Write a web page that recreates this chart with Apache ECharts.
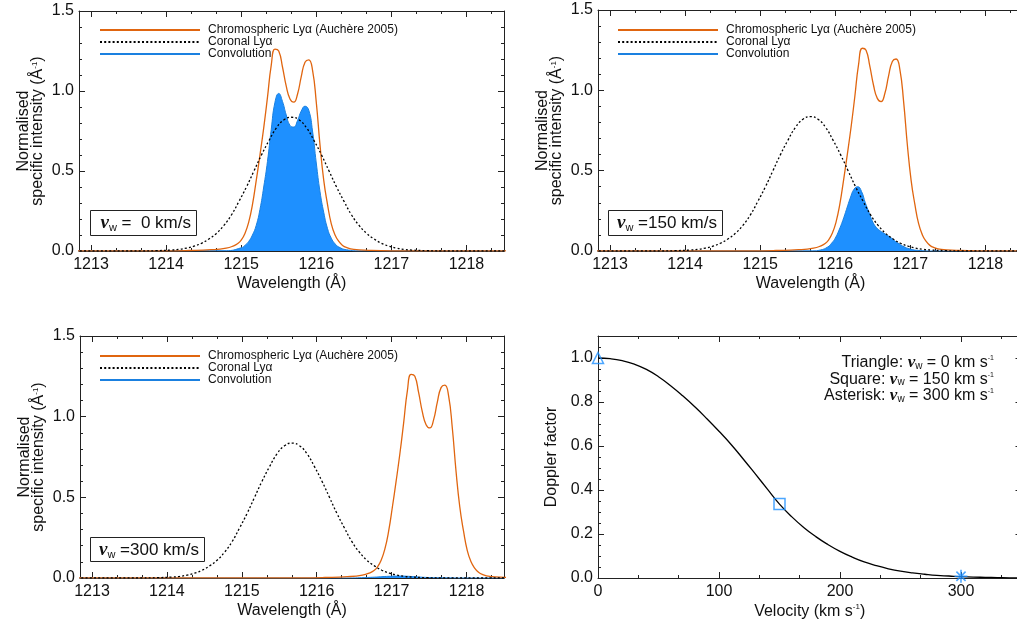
<!DOCTYPE html>
<html><head><meta charset="utf-8">
<script src="https://cdn.jsdelivr.net/npm/echarts@6/dist/echarts.min.js"></script>
<style>html,body{margin:0;padding:0;background:#fff}#c{width:1017px;height:623px}</style>
</head><body><div id="c"></div>
<script>
// ---------------- data ----------------
const wavelengthTicks = [1213, 1214, 1215, 1216, 1217, 1218];
const intensityTicks = [0, 0.5, 1.0, 1.5];
const velocityTicks = [0, 100, 200, 300];
const dopplerTicks = [0, 0.2, 0.4, 0.6, 0.8, 1.0];

const seriesNames = ['Chromospheric Lyα (Auchère 2005)', 'Coronal Lyα', 'Convolution'];

// chromospheric profile at rest (panel with v_w = 0)
const chromoWl = [1210, 1214.0, 1214.3, 1214.6, 1214.8, 1214.9, 1214.95, 1215.0, 1215.05, 1215.1, 1215.15, 1215.2, 1215.25, 1215.3, 1215.35, 1215.4, 1215.45, 1215.5, 1215.55, 1215.6, 1215.65, 1215.7, 1215.75, 1215.8, 1215.85, 1215.9, 1215.95, 1216.0, 1216.05, 1216.1, 1216.15, 1216.2, 1216.25, 1216.3, 1216.35, 1216.4, 1216.5, 1216.7, 1217.0, 1222];
const chromoI = [0, 0.001, 0.003, 0.008, 0.018, 0.032, 0.045, 0.068, 0.11, 0.18, 0.29, 0.44, 0.60, 0.77, 0.96, 1.16, 1.262, 1.25, 1.15, 1.03, 0.95, 0.93, 0.98, 1.09, 1.18, 1.195, 1.13, 0.93, 0.66, 0.44, 0.29, 0.17, 0.10, 0.06, 0.035, 0.022, 0.01, 0.004, 0.001, 0];
// apparent shift of the chromospheric profile in each panel (Å)
const panelShift = [0, 0.91, 1.81];
const windLabels = ['  0', '150', '300'];

// coronal profile (same in every panel)
const coronalWl = [1210, 1213.67, 1213.87, 1214.07, 1214.17, 1214.27, 1214.37, 1214.47, 1214.57, 1214.67, 1214.77, 1214.87, 1214.97, 1215.07, 1215.17, 1215.27, 1215.37, 1215.47, 1215.57, 1215.67, 1215.77, 1215.87, 1215.97, 1216.07, 1216.17, 1216.27, 1216.37, 1216.47, 1216.57, 1216.67, 1216.77, 1216.87, 1216.97, 1217.07, 1217.17, 1217.27, 1217.47, 1217.67, 1222];
const coronalI = [0, 0, 0.002, 0.006, 0.010, 0.018, 0.030, 0.048, 0.075, 0.11, 0.16, 0.225, 0.31, 0.40, 0.50, 0.60, 0.69, 0.77, 0.82, 0.836, 0.82, 0.77, 0.69, 0.60, 0.50, 0.40, 0.31, 0.225, 0.16, 0.11, 0.075, 0.048, 0.030, 0.018, 0.010, 0.006, 0.002, 0, 0];

// convolutions
const conv0Wl = [1210, 1214.8, 1215.0, 1215.05, 1215.1, 1215.15, 1215.2, 1215.25, 1215.3, 1215.35, 1215.4, 1215.45, 1215.5, 1215.55, 1215.6, 1215.65, 1215.7, 1215.75, 1215.8, 1215.85, 1215.9, 1215.95, 1216.0, 1216.05, 1216.1, 1216.15, 1216.2, 1216.25, 1216.3, 1216.4, 1216.6, 1222];
const conv0I = [0, 0.002, 0.02, 0.035, 0.06, 0.10, 0.16, 0.26, 0.40, 0.56, 0.76, 0.93, 0.985, 0.935, 0.85, 0.785, 0.775, 0.815, 0.875, 0.905, 0.88, 0.75, 0.55, 0.37, 0.24, 0.14, 0.08, 0.045, 0.025, 0.008, 0.001, 0];
const conv150Wl = [1210, 1215.7, 1215.8, 1215.9, 1215.95, 1216.0, 1216.05, 1216.1, 1216.15, 1216.2, 1216.25, 1216.3, 1216.35, 1216.4, 1216.45, 1216.5, 1216.55, 1216.6, 1216.65, 1216.7, 1216.75, 1216.8, 1216.85, 1216.9, 1217.0, 1217.1, 1217.3, 1222];
const conv150I = [0, 0.001, 0.006, 0.025, 0.048, 0.08, 0.13, 0.19, 0.26, 0.33, 0.385, 0.40, 0.37, 0.30, 0.24, 0.18, 0.145, 0.125, 0.11, 0.095, 0.08, 0.06, 0.045, 0.03, 0.012, 0.004, 0, 0];
const conv300Wl = [1210, 1216.4, 1216.6, 1216.8, 1216.9, 1217.0, 1217.1, 1217.2, 1217.3, 1217.4, 1217.5, 1217.7, 1218.0, 1222];
const conv300I = [0, 0, 0.002, 0.006, 0.009, 0.011, 0.012, 0.011, 0.008, 0.005, 0.003, 0.001, 0, 0];

// Doppler factor vs velocity
const velocity = [0, 10, 20, 30, 40, 50, 60, 70, 80, 90, 100, 110, 120, 130, 140, 150, 160, 170, 180, 190, 200, 210, 220, 230, 240, 250, 260, 270, 280, 290, 300, 310, 320, 330, 340, 350];
const doppler = [1.000, 0.997, 0.988, 0.972, 0.948, 0.915, 0.874, 0.828, 0.778, 0.724, 0.667, 0.607, 0.541, 0.473, 0.404, 0.336, 0.279, 0.230, 0.188, 0.152, 0.121, 0.095, 0.073, 0.056, 0.042, 0.031, 0.023, 0.017, 0.012, 0.009, 0.006, 0.004, 0.003, 0.002, 0.001, 0.001];
const markerVel = [0, 150, 300];
const markerDop = [1.0, 0.336, 0.008];

// ---------------- styling / layout ----------------
const SANS = 'Liberation Sans';
const SERIF = 'Liberation Serif';
const AX = '#222';
const TXT = '#111';
const ORANGE = '#E0650F';
const BLUE = '#1E90FF';
const BLUE_LINE = '#1A80E0';
const WL_MIN = 1212.84, WL_MAX = 1218.5;

const grids = [
  {left: 79, top: 11, width: 425, height: 240},
  {left: 598, top: 10, width: 425, height: 241},
  {left: 80, top: 336, width: 424, height: 242},
  {left: 598, top: 336, width: 423.5, height: 242}
];

function minorList(min, max, step, div) {
  const out = [];
  const k0 = Math.ceil(min / step - 1e-9), k1 = Math.floor(max / step + 1e-9);
  for (let k = k0; k <= k1; k++) if (k % div !== 0) out.push(+(k * step).toFixed(6));
  return out;
}

function makeAxes(dim, gi, min, max, ticks, minors, labelFmt, nameOpt) {
  const posA = dim === 'x' ? 'bottom' : 'left';
  const posB = dim === 'x' ? 'top' : 'right';
  const ax = (pos, vals, len, showLine, withLabel) => {
    const a = {
      type: 'value', gridIndex: gi, min: min, max: max, position: pos,
      axisLine: {show: showLine, onZero: false, lineStyle: {color: AX, width: 1}},
      axisTick: {show: true, inside: true, length: len, customValues: vals, lineStyle: {color: AX, width: 1}},
      minorTick: {show: false}, splitLine: {show: false}, axisPointer: {show: false},
      axisLabel: withLabel ? {show: true, customValues: vals, formatter: labelFmt, color: TXT,
        fontSize: 16, fontFamily: SANS, margin: dim === 'x' ? 6 : 5} : {show: false}
    };
    if (withLabel && nameOpt) Object.assign(a, nameOpt);
    return a;
  };
  return [ax(posA, ticks, 6, true, true), ax(posA, minors, 3, false, false),
          ax(posB, ticks, 6, true, false), ax(posB, minors, 3, false, false)];
}

const xAxes = [], yAxes = [];
const intensityName = {
  name: 'Normalised\nspecific intensity (Å{sup|-1})', nameLocation: 'middle', nameGap: 34,
  nameTextStyle: {fontSize: 16, lineHeight: 14, color: TXT, fontFamily: SANS,
    rich: {sup: {fontSize: 8, lineHeight: 5, verticalAlign: 'top', fontFamily: SANS, color: TXT}}}
};
const wlName = {
  name: 'Wavelength (Å)', nameLocation: 'middle', nameGap: 25,
  nameTextStyle: {fontSize: 16, color: TXT, fontFamily: SANS}
};
const wlMinor = minorList(WL_MIN, WL_MAX, 1 / 3, 3);
for (let p = 0; p < 3; p++) {
  xAxes.push(...makeAxes('x', p, WL_MIN, WL_MAX, wavelengthTicks, wlMinor, v => String(v), wlName));
  yAxes.push(...makeAxes('y', p, 0, 1.5, intensityTicks, minorList(0, 1.5, 0.1, 5), v => v.toFixed(1), intensityName));
}
// panel 4
xAxes.push(...makeAxes('x', 3, 0, 350, velocityTicks, minorList(0, 350, 100 / 3, 3), v => String(v), {
  name: 'Velocity (km s{sup|-1})', nameLocation: 'middle', nameGap: 25,
  nameTextStyle: {fontSize: 16, lineHeight: 18, color: TXT, fontFamily: SANS,
    rich: {sup: {fontSize: 8, lineHeight: 6, verticalAlign: 'top', fontFamily: SANS, color: TXT}}}
}));
yAxes.push(...makeAxes('y', 3, 0, 1.1, dopplerTicks, minorList(0, 1.1, 0.05, 4), v => v.toFixed(1), {
  name: 'Doppler factor', nameLocation: 'middle', nameGap: 38,
  nameTextStyle: {fontSize: 16, color: TXT, fontFamily: SANS}
}));

const convWl = [conv0Wl, conv150Wl, conv300Wl];
const convI = [conv0I, conv150I, conv300I];
const SMOOTH = 0.5;
const series = [];
for (let p = 0; p < 3; p++) {
  const ai = 4 * p;
  series.push({
    type: 'line', name: seriesNames[2], xAxisIndex: ai, yAxisIndex: ai, symbol: 'none',
    smooth: SMOOTH, z: 2,
    data: convWl[p].map((w, i) => [w, convI[p][i]]),
    itemStyle: {color: BLUE_LINE}, lineStyle: {color: BLUE_LINE, width: 1},
    areaStyle: {color: BLUE, opacity: 1}
  });
  series.push({
    type: 'line', name: seriesNames[0], xAxisIndex: ai, yAxisIndex: ai, symbol: 'none',
    smooth: SMOOTH, z: 3,
    data: chromoWl.map((w, i) => [w + panelShift[p], chromoI[i]]),
    itemStyle: {color: ORANGE}, lineStyle: {color: ORANGE, width: 1.3}
  });
  series.push({
    type: 'line', name: seriesNames[1], xAxisIndex: ai, yAxisIndex: ai, symbol: 'none',
    smooth: SMOOTH, z: 4,
    data: coronalWl.map((w, i) => [w, coronalI[i]]),
    itemStyle: {color: '#000'}, lineStyle: {color: '#000', width: 1.3, type: [2, 2.2]}
  });
}
series.push({
  type: 'line', xAxisIndex: 12, yAxisIndex: 12, symbol: 'none', smooth: SMOOTH, z: 3,
  data: velocity.map((v, i) => [v, doppler[i]]),
  lineStyle: {color: '#000', width: 1.3}, itemStyle: {color: '#000'}
});
const asteriskPath = 'path://M-1.2,-10L1.2,-10L1.2,10L-1.2,10Z M-10,-1.2L10,-1.2L10,1.2L-10,1.2Z M-7.9,-6.2L-6.2,-7.9L7.9,6.2L6.2,7.9Z M6.2,-7.9L7.9,-6.2L-6.2,7.9L-7.9,6.2Z';
const markerSymbols = ['triangle', 'rect', asteriskPath];
const markerSizes = [11, 11, 13];
markerVel.forEach((v, i) => {
  const filled = i === 2;
  series.push({
    type: 'scatter', xAxisIndex: 12, yAxisIndex: 12, clip: false, z: 5,
    symbol: markerSymbols[i], symbolSize: markerSizes[i],
    data: [[v, markerDop[i]]],
    itemStyle: filled ? {color: BLUE} : {color: 'rgba(0,0,0,0)', borderColor: BLUE, borderWidth: 1.5}
  });
});

function legendAt(left, top) {
  return {
    left: left, top: top, padding: 0, orient: 'vertical', itemWidth: 100, itemHeight: 12, itemGap: 0,
    selectedMode: false, data: seriesNames,
    itemStyle: {opacity: 0},
    textStyle: {fontSize: 12, lineHeight: 12, color: TXT, fontFamily: SANS, padding: [0, 0, 0, 3]}
  };
}

const richBox = {
  t: {fontSize: 17, lineHeight: 20, fontFamily: SANS, fill: TXT, color: TXT},
  nu: {fontSize: 19, lineHeight: 20, fontFamily: SERIF, fontStyle: 'italic', fontWeight: 'bold', fill: TXT, color: TXT},
  w: {fontSize: 11, lineHeight: 12, fontFamily: SANS, verticalAlign: 'bottom', fill: TXT, color: TXT}
};
const boxes = [
  {x: 90, y: 210, w: 106, h: 25},
  {x: 608, y: 210, w: 114, h: 25},
  {x: 90, y: 537, w: 114, h: 24}
];
const graphics = [];
boxes.forEach((b, i) => {
  graphics.push({type: 'rect', z: 10, shape: {x: b.x + 0.5, y: b.y + 0.5, width: b.w, height: b.h},
    style: {fill: '#fff', stroke: '#222', lineWidth: 1}});
  graphics.push({type: 'text', z: 11, x: b.x + b.w - 5, y: b.y + b.h / 2 + 1,
    style: {text: '{nu|ν}{w|w}{t| =' + windLabels[i] + ' km/s}', rich: richBox,
      align: 'right', verticalAlign: 'middle'}});
});
const richNote = {
  t: {fontSize: 16, lineHeight: 16, fontFamily: SANS, fill: TXT, color: TXT},
  nu: {fontSize: 17, lineHeight: 16, fontFamily: SERIF, fontStyle: 'italic', fontWeight: 'bold', fill: TXT, color: TXT},
  w: {fontSize: 10, lineHeight: 10, fontFamily: SANS, verticalAlign: 'bottom', fill: TXT, color: TXT},
  sup: {fontSize: 7, lineHeight: 5, fontFamily: SANS, verticalAlign: 'top', fill: TXT, color: TXT}
};
const noteLines = [['Triangle: ', '0'], ['Square: ', '150'], ['Asterisk: ', '300']];
noteLines.forEach((ln, i) => {
  graphics.push({type: 'text', z: 11, x: 994, y: 363 + i * 16.5,
    style: {text: '{t|' + ln[0] + '}{nu|ν}{w|w}{t| = ' + ln[1] + ' km s}{sup|-1}', rich: richNote,
      align: 'right', verticalAlign: 'middle'}});
});

const chart = echarts.init(document.getElementById('c'), null, {renderer: 'canvas'});
chart.setOption({
  animation: false,
  backgroundColor: '#fff',
  textStyle: {fontFamily: SANS},
  grid: grids.map(g => Object.assign({containLabel: false, outerBoundsMode: 'none'}, g)),
  xAxis: xAxes,
  yAxis: yAxes,
  legend: [legendAt(99, 24), legendAt(617, 24), legendAt(99, 350)],
  series: series,
  graphic: graphics
});
</script>
</body></html>
